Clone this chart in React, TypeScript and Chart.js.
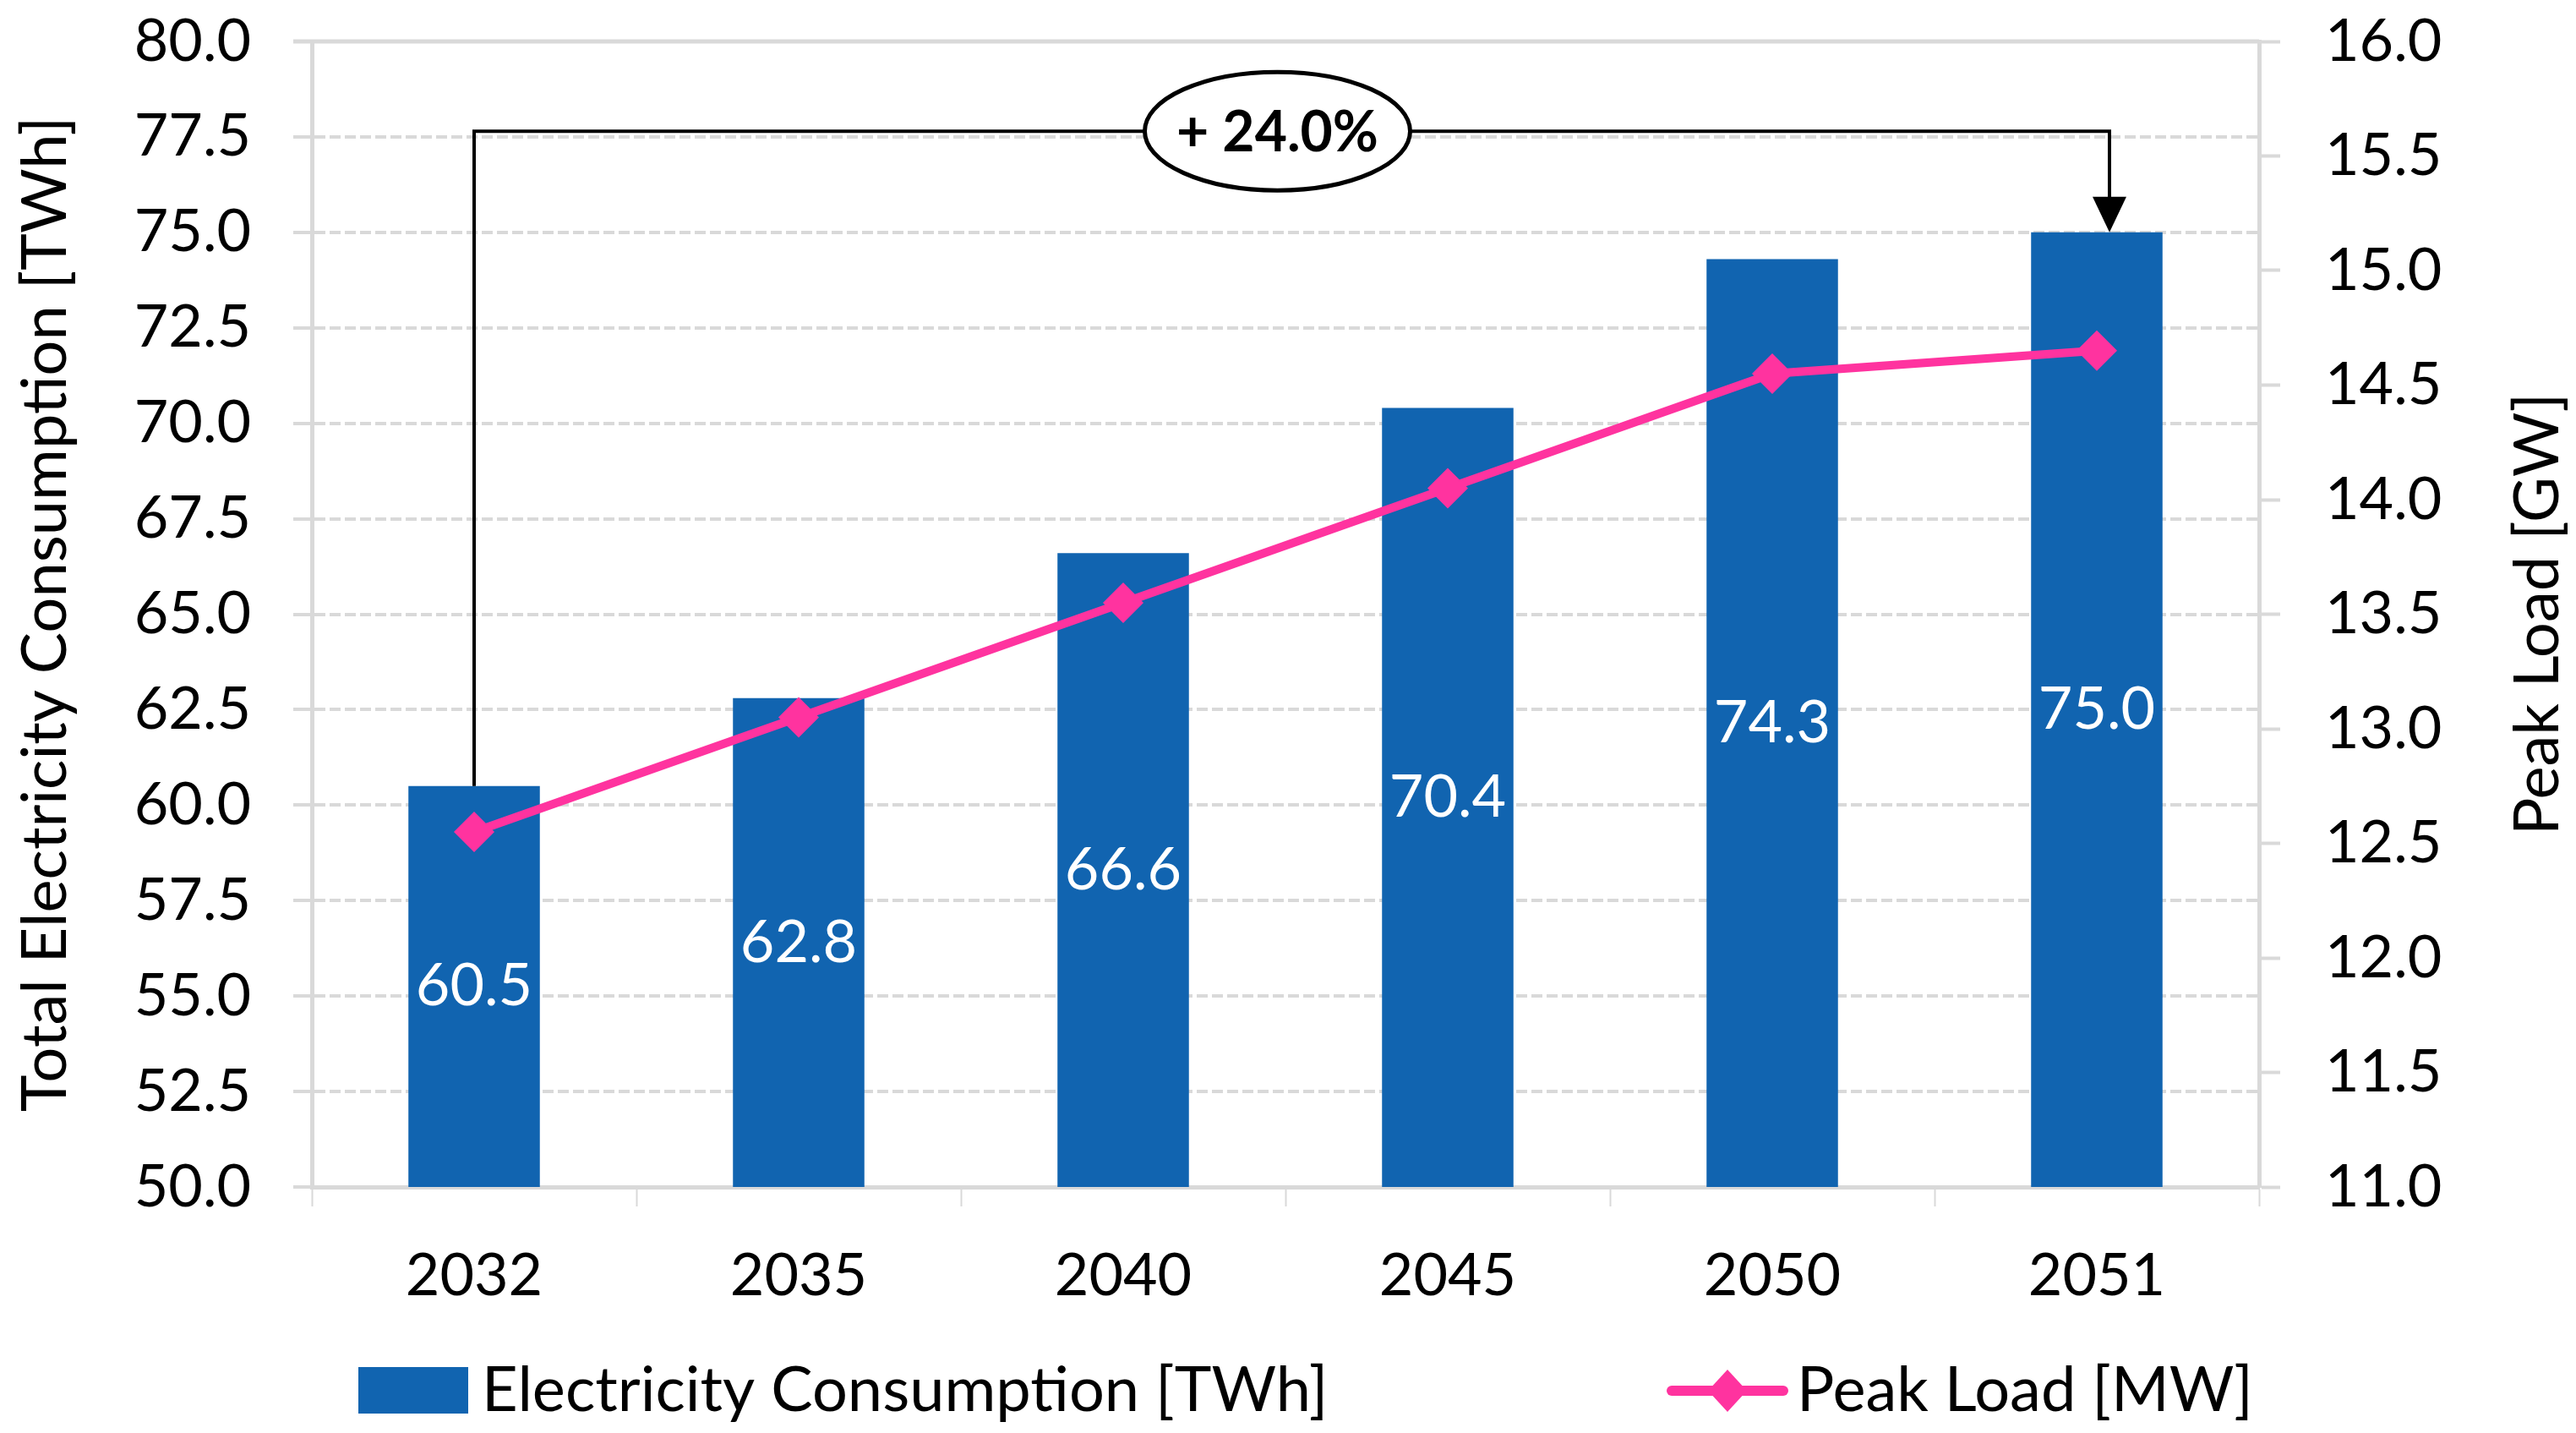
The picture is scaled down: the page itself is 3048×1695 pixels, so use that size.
import { useEffect, useRef } from "react";
import { Chart, registerables } from "chart.js";

Chart.register(...registerables);

const years = ["2032", "2035", "2040", "2045", "2050", "2051"];
const consumption = [60.5, 62.8, 66.6, 70.4, 74.3, 75.0];
const peakLoad = [12.55, 13.05, 13.55, 14.05, 14.55, 14.65];
const legendLabels = ["Electricity Consumption [TWh]", "Peak Load [MW]"];
const leftTitle = "Total Electricity Consumption [TWh]";
const rightTitle = "Peak Load [GW]";
const growthLabel = "+ 24.0%";
const bracketLevel = 77.65; // consumption units, just above the 77.5 gridline

const FONT = "Lato, 'Noto Sans', sans-serif";
const BLUE = "#1164B0";
const PINK = "#FF339F";
const GRID = "#D9D9D9";

const overlay = {
  id: "overlay",
  afterDatasetsDraw(chart: any) {
    const { ctx, chartArea, scales } = chart;
    const x = scales.x;
    const y = scales.y;
    ctx.save();

    // solid frame line on top of the plot
    ctx.strokeStyle = GRID;
    ctx.lineWidth = 5;
    ctx.beginPath();
    ctx.moveTo(chartArea.left - 22, chartArea.top);
    ctx.lineTo(chartArea.right, chartArea.top);
    ctx.stroke();

    // bar values, centred inside each bar
    ctx.fillStyle = "#ffffff";
    ctx.font = `70px ${FONT}`;
    ctx.textAlign = "center";
    ctx.textBaseline = "middle";
    const base = y.getPixelForValue(y.min);
    consumption.forEach((v, i) => {
      const top = y.getPixelForValue(v);
      ctx.fillText(v.toFixed(1), x.getPixelForValue(i), (top + base) / 2);
    });

    // growth bracket
    const x0 = x.getPixelForValue(0);
    const x1 = x.getPixelForValue(years.length - 1) + 15;
    const yTop = y.getPixelForValue(bracketLevel);
    const yStart = y.getPixelForValue(consumption[0]);
    const yEnd = y.getPixelForValue(consumption[consumption.length - 1]);
    ctx.strokeStyle = "#000";
    ctx.lineWidth = 4;
    ctx.beginPath();
    ctx.moveTo(x0, yStart);
    ctx.lineTo(x0, yTop);
    ctx.lineTo(x1, yTop);
    ctx.lineTo(x1, yEnd - 38);
    ctx.stroke();
    ctx.fillStyle = "#000";
    ctx.beginPath();
    ctx.moveTo(x1 - 20, yEnd - 42);
    ctx.lineTo(x1 + 20, yEnd - 42);
    ctx.lineTo(x1, yEnd);
    ctx.closePath();
    ctx.fill();

    const cx = (x0 + x1) / 2 - 17;
    ctx.beginPath();
    ctx.ellipse(cx, yTop, 157, 70, 0, 0, Math.PI * 2);
    ctx.fillStyle = "#fff";
    ctx.fill();
    ctx.lineWidth = 5;
    ctx.stroke();
    ctx.fillStyle = "#000";
    ctx.font = `bold 66px ${FONT}`;
    ctx.fillText(growthLabel, cx, yTop + 3);

    // right axis title, reading bottom to top
    ctx.save();
    ctx.translate(3003, (chartArea.top + chartArea.bottom) / 2);
    ctx.rotate(-Math.PI / 2);
    ctx.font = `74px ${FONT}`;
    ctx.fillText(rightTitle, 0, 0);
    ctx.restore();

    // legend
    const ly = 1645;
    ctx.fillStyle = BLUE;
    ctx.fillRect(424, ly - 28, 130, 55);
    ctx.fillStyle = "#000";
    ctx.font = `74px ${FONT}`;
    ctx.textAlign = "left";
    ctx.fillText(legendLabels[0], 570, ly);
    ctx.strokeStyle = PINK;
    ctx.lineWidth = 12;
    ctx.lineCap = "round";
    ctx.beginPath();
    ctx.moveTo(1978, ly);
    ctx.lineTo(2110, ly);
    ctx.stroke();
    ctx.fillStyle = PINK;
    ctx.beginPath();
    ctx.moveTo(2044, ly - 25);
    ctx.lineTo(2067, ly);
    ctx.lineTo(2044, ly + 25);
    ctx.lineTo(2021, ly);
    ctx.closePath();
    ctx.fill();
    ctx.fillStyle = "#000";
    ctx.fillText(legendLabels[1], 2126, ly);

    ctx.restore();
  },
};

export default function App() {
  const canvasRef = useRef<HTMLCanvasElement>(null);

  useEffect(() => {
    let chart: Chart | undefined;
    if (canvasRef.current) {
      Chart.defaults.font.family = FONT;
      chart = new Chart(canvasRef.current, {
        type: "bar",
        data: {
          labels: years,
          datasets: [
            {
              type: "bar",
              label: legendLabels[0],
              data: consumption,
              yAxisID: "y",
              backgroundColor: BLUE,
              barPercentage: 0.405,
              categoryPercentage: 1.0,
              order: 2,
            },
            {
              type: "line",
              label: legendLabels[1],
              data: peakLoad,
              yAxisID: "y1",
              borderColor: PINK,
              backgroundColor: PINK,
              borderWidth: 10,
              pointStyle: "rectRot",
              pointRadius: 24,
              pointBorderWidth: 0,
              order: 1,
            },
          ] as any,
        },
        options: {
          animation: false,
          responsive: true,
          maintainAspectRatio: false,
          devicePixelRatio: 1,
          layout: { padding: { top: 49, left: 0, right: 0, bottom: 0 } },
          plugins: {
            legend: { display: false },
            tooltip: { enabled: false },
          },
          scales: {
            x: {
              offset: true,
              grid: {
                offset: true,
                drawOnChartArea: false,
                tickLength: 23,
                tickColor: GRID,
                tickWidth: 2,
                color: GRID,
              },
              border: { color: GRID, width: 5 },
              ticks: { color: "#000", font: { size: 70 }, padding: 40 },
              afterFit: (s: any) => {
                s.height = 291;
              },
            },
            y: {
              position: "left",
              min: 50,
              max: 80,
              ticks: {
                stepSize: 2.5,
                callback: (v: any) => Number(v).toFixed(1),
                color: "#000",
                font: { size: 70 },
                padding: 50,
              },
              grid: {
                color: GRID,
                lineWidth: 4,
                tickLength: 22,
                tickColor: GRID,
                tickWidth: 4,
              },
              border: { color: GRID, width: 5, dash: [13, 5] },
              title: {
                display: true,
                text: leftTitle,
                color: "#000",
                font: { size: 74 },
                padding: { top: 10, bottom: 0 },
              },
              afterFit: (s: any) => {
                s.width = 369;
                s.paddingTop = 0;
                s.paddingBottom = 0;
              },
            },
            y1: {
              position: "right",
              min: 11,
              max: 16,
              ticks: {
                stepSize: 0.5,
                callback: (v: any) => Number(v).toFixed(1),
                color: "#000",
                font: { size: 70 },
                padding: 53,
              },
              grid: {
                drawOnChartArea: false,
                tickLength: 25,
                tickColor: GRID,
                tickWidth: 4,
              },
              border: { color: GRID, width: 5 },
              afterFit: (s: any) => {
                s.width = 375;
                s.paddingTop = 0;
                s.paddingBottom = 0;
              },
            },
          },
        } as any,
        plugins: [overlay],
      });
    }
    return () => {
      if (chart) {
        chart.destroy();
      }
    };
  }, []);

  return (
    <div style={{ position: "absolute", left: 0, top: 0, width: 3048, height: 1695, background: "#fff" }}>
      <canvas ref={canvasRef}></canvas>
    </div>
  );
}
